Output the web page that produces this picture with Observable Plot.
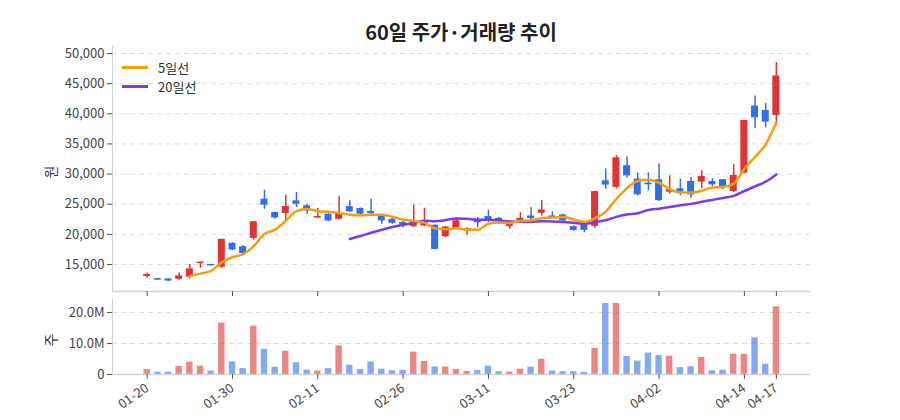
<!DOCTYPE html>
<html>
<head>
<meta charset="utf-8">
<script src="https://cdn.jsdelivr.net/npm/d3@7"></script>
<script src="https://cdn.jsdelivr.net/npm/@observablehq/plot@0.6"></script>
<style>
  body { margin: 0; background: #fff; font-family: "Noto Sans CJK KR", "Noto Sans", sans-serif; }
  #wrap { position: relative; width: 900px; height: 420px; overflow: hidden; }
  #title { position: absolute; left: 112px; width: 698px; top: 18px; line-height: 28px; text-align: center;
           font-size: 20px; font-weight: 700; color: #222; }
  #price { position: absolute; left: 0; top: 40px; }
  #volume { position: absolute; left: 0; top: 297px; }
  .ylab { position: absolute; font-size: 14px; color: #333; transform: translate(-50%, -50%) rotate(-90deg); }
  .leg { position: absolute; left: 122px; font-size: 13px; color: #333; display: flex; align-items: center; }
  .leg .sw { width: 26px; height: 2.5px; margin-right: 10px; }
</style>
</head>
<body>
<div id="wrap">
  <div id="title">60일 주가·거래량 추이</div>
  <div id="price"></div>
  <div id="volume"></div>
  <div class="ylab" style="left:50px; top:172px;">원</div>
  <div class="ylab" style="left:50px; top:340px;">주</div>
  <div class="leg" style="top:58px;"><span class="sw" style="background:#f59e0b"></span>5일선</div>
  <div class="leg" style="top:77px;"><span class="sw" style="background:#7c3aed"></span>20일선</div>
</div>
<script>
const dates = ["01-20","01-21","01-22","01-23","01-24","01-27","01-28","01-29","01-30","01-31",
  "02-03","02-04","02-05","02-06","02-07","02-10","02-11","02-13","02-14","02-17",
  "02-18","02-20","02-21","02-25","02-26","02-27","02-28","03-04","03-05","03-06",
  "03-07","03-10","03-11","03-12","03-13","03-14","03-17","03-18","03-19","03-20",
  "03-23","03-24","03-25","03-26","03-27","03-30","03-31","04-01","04-02","04-03",
  "04-06","04-07","04-08","04-09","04-10","04-13","04-14","04-15","04-16","04-17"];
const open  = [13000,12650,12600,12550,12900,15150,15000,14550,18500,17950,
  19330,25840,23610,23450,25560,24730,22700,23340,22500,24600,
  24280,23780,23060,22500,21950,21280,21390,21500,19610,21000,
  20660,22330,22940,22670,21280,22220,23050,23500,23050,23220,
  21280,21660,21330,28890,27800,31390,29170,28500,29060,27000,
  27560,28780,28670,28780,29060,27110,30170,41280,40560,39730];
const high  = [13600,12700,12650,13600,15000,15400,15050,19200,18600,18150,
  22100,27340,23720,26500,26950,25000,24280,23400,26280,25560,
  24400,25840,23100,22780,22220,24890,24330,21600,21280,22670,
  21110,22780,24000,22780,22220,23610,24440,25560,23720,23330,
  21390,21830,27140,30830,33100,32830,30170,30170,31670,29720,
  29170,29440,30560,29220,29110,31560,38900,42950,41730,48510];
const low   = [12700,12350,12200,12400,12650,14350,14750,14330,17300,16660,
  19050,24170,22500,21950,24450,23340,22610,22060,22400,23610,
  23000,23170,21670,21670,21110,21110,21280,17400,19440,20900,
  19830,21110,21940,21660,20830,22060,22390,23050,22610,22060,
  20550,20270,21000,27500,27500,29330,26390,27220,25440,26670,
  26390,26000,27560,27940,27390,26940,30060,37500,37670,37950];
const close = [13330,12400,12250,13100,14270,15400,14780,19170,17400,16830,
  22100,24840,22720,24610,25000,23900,22950,22220,23500,23730,
  23340,23450,22220,21840,21400,22060,22060,17500,21220,22250,
  20940,21940,22390,22220,21830,22670,22610,24050,22780,22220,
  20660,20660,27100,28170,32700,29720,26550,28220,25610,27390,
  27000,26550,29610,28220,27940,29780,38890,39330,38610,46290];
const volume = [1.6e6,0.75e6,0.75e6,2.6e6,4.0e6,2.7e6,1.1e6,16.6e6,4.1e6,1.9e6,
  15.6e6,8.1e6,2.3e6,7.5e6,3.8e6,1.4e6,1.1e6,1.9e6,9.2e6,3.0e6,
  1.6e6,4.0e6,1.7e6,1.2e6,1.3e6,7.2e6,4.2e6,2.4e6,2.4e6,1.6e6,
  1.0e6,1.3e6,2.7e6,0.9e6,0.8e6,1.7e6,2.4e6,4.9e6,1.1e6,0.9e6,
  0.9e6,0.7e6,8.4e6,22.9e6,22.9e6,5.8e6,4.3e6,6.9e6,6.1e6,5.9e6,
  2.2e6,2.5e6,5.5e6,1.2e6,1.4e6,6.5e6,6.5e6,11.8e6,3.3e6,21.8e6];
const priceTicks = [15000,20000,25000,30000,35000,40000,45000,50000];
const volumeTicks = [0,10e6,20e6];
const tickIndex = [0,8,16,24,32,40,48,56,59];

const rows = dates.map((d, i) => ({i, date: d, open: open[i], high: high[i], low: low[i], close: close[i], volume: volume[i]}));
const up = d => d.close >= d.open;
const down = d => d.close < d.open;
const RED = "#e03434", BLUE = "#2f6fe8";
const xDomain = [-3.25, 62.2];
const pDomain = [10520, 51330];
const font = {fontFamily: '"Noto Sans CJK KR","Noto Sans",sans-serif', fontSize: "13px", color: "#444", background: "transparent"};
const grid = {stroke: "#dcdde0", strokeOpacity: 1, strokeDasharray: "5,4"};
const hw = 0.33;

const price = Plot.plot({
  width: 900, height: 257, marginLeft: 112, marginRight: 90, marginTop: 5, marginBottom: 6,
  style: font,
  x: {domain: xDomain, axis: null},
  y: {domain: pDomain, axis: null},
  marks: [
    Plot.gridY(priceTicks, grid),
    Plot.axisY(priceTicks, {label: null, tickFormat: d3.format(","), tickSize: 5, tickPadding: 3, stroke: "#555", fill: "#444"}),
    Plot.ruleX([xDomain[0]], {stroke: "#cfd2d8"}),
    Plot.ruleY([pDomain[0]], {stroke: "#cfd2d8", strokeWidth: 1.5}),
    Plot.axisX(tickIndex, {label: null, anchor: "bottom", tickSize: 5, tickFormat: () => "", stroke: "#555"}),
    Plot.ruleX(rows, {filter: up, x: "i", y1: "low", y2: "high", stroke: RED, strokeWidth: 1.5}),
    Plot.ruleX(rows, {filter: down, x: "i", y1: "low", y2: "high", stroke: BLUE, strokeWidth: 1.5}),
    Plot.rect(rows, {filter: up, x1: d => d.i - hw, x2: d => d.i + hw, y1: "open", y2: "close", fill: RED}),
    Plot.rect(rows, {filter: down, x1: d => d.i - hw, x2: d => d.i + hw, y1: "open", y2: "close", fill: BLUE}),
    Plot.lineY(rows, Plot.windowY({k: 20, anchor: "end", strict: true}, {x: "i", y: "close", stroke: "#7c3aed", strokeWidth: 2.5, curve: "monotone-x"})),
    Plot.lineY(rows, Plot.windowY({k: 5, anchor: "end", strict: true}, {x: "i", y: "close", stroke: "#f59e0b", strokeWidth: 2.5, curve: "monotone-x"}))
  ]
});
document.getElementById("price").appendChild(price);

const vol = Plot.plot({
  width: 900, height: 123, marginLeft: 112, marginRight: 90, marginTop: 1, marginBottom: 46,
  style: font,
  x: {domain: xDomain, axis: null},
  y: {domain: [0, 24.5e6], axis: null},
  marks: [
    Plot.gridY(volumeTicks.filter(v => v > 0), grid),
    Plot.axisY(volumeTicks, {label: null, tickFormat: d => d === 0 ? "0" : (d / 1e6).toFixed(1) + "M", tickSize: 5, tickPadding: 3, stroke: "#555", fill: "#444"}),
    Plot.rect(rows, {filter: up, x1: d => d.i - 0.3, x2: d => d.i + 0.3, y1: 0, y2: "volume", fill: RED, fillOpacity: 0.6}),
    Plot.rect(rows, {filter: down, x1: d => d.i - 0.3, x2: d => d.i + 0.3, y1: 0, y2: "volume", fill: BLUE, fillOpacity: 0.6}),
    Plot.ruleX([xDomain[0]], {stroke: "#cfd2d8"}),
    Plot.ruleY([0], {stroke: "#cfd2d8", strokeWidth: 1.5}),
    Plot.axisX(tickIndex, {label: null, anchor: "bottom", tickSize: 5, tickFormat: i => dates[i], tickRotate: -35, stroke: "#555", fill: "#444"})
  ]
});
document.getElementById("volume").appendChild(vol);
</script>
</body>
</html>
